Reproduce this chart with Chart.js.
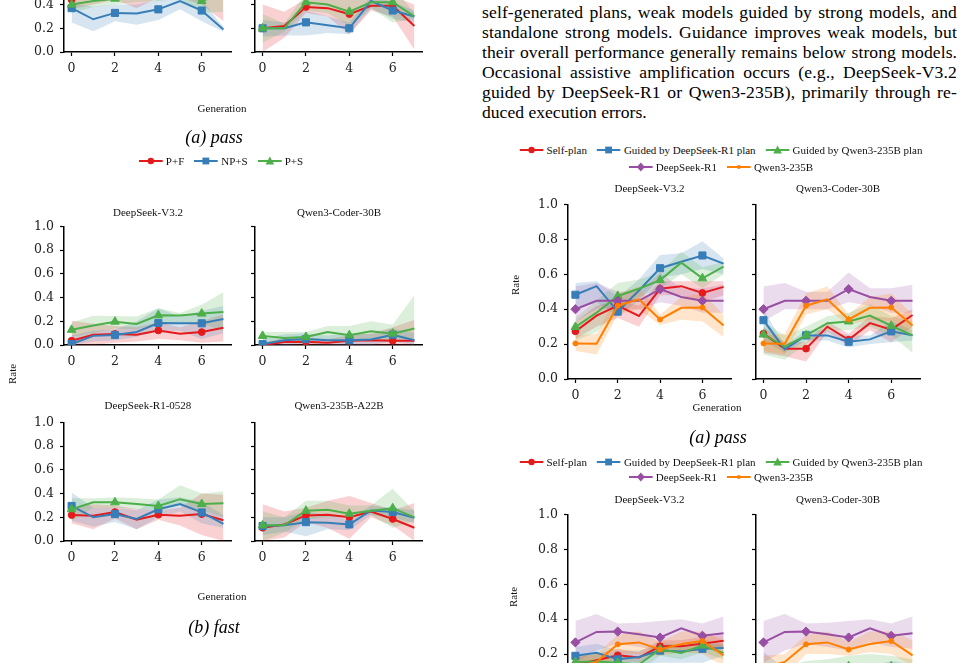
<!DOCTYPE html>
<html><head><meta charset="utf-8">
<script src="https://cdn.jsdelivr.net/npm/chart.js@4"></script>
<style>
html,body{margin:0;padding:0;background:#fff;}
body{width:961px;height:663px;position:relative;overflow:hidden;font-family:'Liberation Serif','Times New Roman',serif;color:#000;}
.t{position:absolute;white-space:nowrap;transform:translate(-50%,-50%);font-size:11px;color:#111;}
.r{transform:translate(-50%,-50%) rotate(-90deg);}
.cap{font-style:italic;font-size:18px;color:#000;}
.cv{position:absolute;}
.leg{position:absolute;transform:translate(-50%,-50%);white-space:nowrap;font-size:11px;display:flex;align-items:center;color:#111;}
.li{display:inline-flex;align-items:center;margin:0 5px;}
.li svg{margin-right:3px;}
.para{position:absolute;left:482px;top:2px;width:475px;font-size:17.6px;}
.para div{height:20px;line-height:20px;white-space:nowrap;}
.para span{white-space:nowrap;}
</style>
</head><body>
<div class="para">
<div><span>self-generated plans, weak models guided by strong models, and</span></div>
<div><span>standalone strong models. Guidance improves weak models, but</span></div>
<div><span>their overall performance generally remains below strong models.</span></div>
<div><span>Occasional assistive amplification occurs (e.g., DeepSeek-V3.2</span></div>
<div><span>guided by DeepSeek-R1 or Qwen3-235B), primarily through re-</span></div>
<div class="last"><span>duced execution errors.</span></div>
</div>
<script>
// ---------- shared axes ----------
const generations = [0, 1, 2, 3, 4, 5, 6, 7];
const xTickValues = [0, 2, 4, 6];
const yTickValues = [0, 0.2, 0.4, 0.6, 0.8, 1.0];
const yTickLabels = ['0.0', '0.2', '0.4', '0.6', '0.8', '1.0'];

// ---------- left figure: P+F / NP+S / P+S ----------
const leftSeriesNames = ['P+F', 'NP+S', 'P+S'];
// (a) pass, lower row (cropped at top) – left panel
const passA_PF    = [0.44, 0.48, 0.52, 0.50, 0.55, 0.55, 0.52, 0.48];
const passA_PF_lo = [0.36, 0.40, 0.44, 0.37, 0.46, 0.46, 0.40, 0.26];
const passA_PF_hi = [0.52, 0.56, 0.60, 0.60, 0.64, 0.64, 0.62, 0.66];
const passA_NPS    = [0.37, 0.276, 0.33, 0.325, 0.36, 0.43, 0.35, 0.19];
const passA_NPS_lo = [0.25, 0.175, 0.26, 0.23, 0.27, 0.36, 0.26, 0.17];
const passA_NPS_hi = [0.41, 0.385, 0.40, 0.40, 0.44, 0.50, 0.44, 0.21];
const passA_PS    = [0.40, 0.43, 0.45, 0.48, 0.50, 0.52, 0.43, 0.50];
const passA_PS_lo = [0.33, 0.38, 0.40, 0.42, 0.43, 0.45, 0.33, 0.34];
const passA_PS_hi = [0.47, 0.50, 0.52, 0.55, 0.58, 0.60, 0.55, 0.62];
// (a) pass, lower row – right panel
const passB_PF    = [0.20, 0.22, 0.38, 0.37, 0.32, 0.39, 0.39, 0.22];
const passB_PF_lo = [0.00, 0.12, 0.33, 0.30, 0.15, 0.35, 0.30, 0.02];
const passB_PF_hi = [0.40, 0.34, 0.45, 0.45, 0.45, 0.45, 0.47, 0.40];
const passB_NPS    = [0.20, 0.20, 0.25, 0.225, 0.20, 0.43, 0.35, 0.30];
const passB_NPS_lo = [0.13, 0.14, 0.14, 0.16, 0.15, 0.37, 0.28, 0.25];
const passB_NPS_hi = [0.27, 0.25, 0.35, 0.30, 0.25, 0.47, 0.42, 0.35];
const passB_PS    = [0.20, 0.20, 0.42, 0.40, 0.34, 0.42, 0.42, 0.30];
const passB_PS_lo = [0.08, 0.17, 0.35, 0.33, 0.22, 0.37, 0.25, 0.28];
const passB_PS_hi = [0.32, 0.24, 0.50, 0.48, 0.45, 0.47, 0.55, 0.33];
// (b) fast – DeepSeek-V3.2
const fastV_PF    = [0.036, 0.087, 0.093, 0.087, 0.123, 0.096, 0.109, 0.145];
const fastV_PF_lo = [0.00, 0.00, 0.02, 0.03, 0.05, 0.04, 0.02, 0.03];
const fastV_PF_hi = [0.205, 0.18, 0.16, 0.15, 0.19, 0.15, 0.20, 0.26];
const fastV_NPS    = [0.008, 0.077, 0.085, 0.11, 0.186, 0.183, 0.183, 0.219];
const fastV_NPS_lo = [0.00, 0.03, 0.04, 0.07, 0.12, 0.12, 0.05, 0.10];
const fastV_NPS_hi = [0.08, 0.12, 0.13, 0.20, 0.31, 0.24, 0.29, 0.33];
const fastV_PS    = [0.128, 0.164, 0.197, 0.178, 0.251, 0.25, 0.265, 0.279];
const fastV_PS_lo = [0.07, 0.10, 0.14, 0.13, 0.19, 0.18, 0.18, 0.12];
const fastV_PS_hi = [0.19, 0.246, 0.245, 0.24, 0.31, 0.27, 0.34, 0.445];
// (b) fast – Qwen3-Coder-30B
const fastC_PF    = [0.0, 0.025, 0.027, 0.02, 0.036, 0.04, 0.036, 0.036];
const fastC_PF_lo = [0, 0, 0, 0, 0, 0, 0, 0];
const fastC_PF_hi = [0.02, 0.06, 0.06, 0.05, 0.08, 0.10, 0.15, 0.21];
const fastC_NPS    = [0.008, 0.04, 0.05, 0.04, 0.04, 0.046, 0.087, 0.04];
const fastC_NPS_lo = [0, 0, 0.01, 0, 0, 0, 0.03, 0];
const fastC_NPS_hi = [0.05, 0.09, 0.10, 0.08, 0.10, 0.09, 0.14, 0.10];
const fastC_PS    = [0.077, 0.06, 0.068, 0.11, 0.082, 0.115, 0.096, 0.14];
const fastC_PS_lo = [0.03, 0.02, 0.02, 0.05, 0.04, 0.05, 0.03, 0.06];
const fastC_PS_hi = [0.11, 0.11, 0.11, 0.16, 0.16, 0.20, 0.17, 0.42];
// (b) fast – DeepSeek-R1-0528
const fastR_PF    = [0.219, 0.214, 0.244, 0.18, 0.222, 0.214, 0.227, 0.175];
const fastR_PF_lo = [0.15, 0.10, 0.19, 0.10, 0.18, 0.13, 0.05, 0.00];
const fastR_PF_hi = [0.28, 0.31, 0.30, 0.27, 0.26, 0.28, 0.40, 0.39];
const fastR_NPS    = [0.296, 0.20, 0.227, 0.186, 0.268, 0.312, 0.241, 0.145];
const fastR_NPS_lo = [0.17, 0.12, 0.16, 0.10, 0.20, 0.25, 0.15, 0.11];
const fastR_NPS_hi = [0.41, 0.28, 0.28, 0.26, 0.35, 0.37, 0.33, 0.22];
const fastR_PS    = [0.268, 0.326, 0.326, 0.312, 0.296, 0.353, 0.312, 0.318];
const fastR_PS_lo = [0.17, 0.28, 0.28, 0.27, 0.26, 0.30, 0.26, 0.20];
const fastR_PS_hi = [0.36, 0.36, 0.37, 0.36, 0.35, 0.47, 0.40, 0.42];
// (b) fast – Qwen3-235B-A22B
const fastW_PF    = [0.112, 0.14, 0.216, 0.222, 0.20, 0.249, 0.186, 0.112];
const fastW_PF_lo = [0.00, 0.03, 0.16, 0.11, 0.02, 0.20, 0.13, 0.00];
const fastW_PF_hi = [0.31, 0.25, 0.28, 0.34, 0.38, 0.32, 0.26, 0.32];
const fastW_NPS    = [0.126, 0.132, 0.159, 0.153, 0.14, 0.258, 0.244, 0.195];
const fastW_NPS_lo = [0.05, 0.08, 0.04, 0.10, 0.09, 0.22, 0.20, 0.15];
const fastW_NPS_hi = [0.20, 0.20, 0.25, 0.22, 0.18, 0.30, 0.28, 0.26];
const fastW_PS    = [0.132, 0.132, 0.255, 0.263, 0.23, 0.255, 0.277, 0.20];
const fastW_PS_lo = [0.00, 0.07, 0.18, 0.20, 0.20, 0.22, 0.11, 0.17];
const fastW_PS_hi = [0.25, 0.20, 0.34, 0.34, 0.30, 0.30, 0.44, 0.25];

// ---------- right figure: guidance ----------
const rightSeriesNames = ['Self-plan', 'Guided by DeepSeek-R1 plan', 'Guided by Qwen3-235B plan', 'DeepSeek-R1', 'Qwen3-235B'];
// pass – strong models (same in both panels)
const passDSR1    = [0.40, 0.448, 0.448, 0.448, 0.515, 0.47, 0.448, 0.448];
const passDSR1_lo = [0.33, 0.40, 0.40, 0.40, 0.44, 0.42, 0.38, 0.38];
const passDSR1_hi = [0.53, 0.55, 0.50, 0.50, 0.61, 0.52, 0.52, 0.54];
const passQ235    = [0.204, 0.202, 0.42, 0.457, 0.341, 0.408, 0.41, 0.307];
const passQ235_lo = [0.16, 0.14, 0.37, 0.40, 0.31, 0.34, 0.33, 0.24];
const passQ235_hi = [0.25, 0.26, 0.49, 0.53, 0.37, 0.47, 0.49, 0.37];
// pass – DeepSeek-V3.2
const passV_self    = [0.273, 0.363, 0.42, 0.361, 0.517, 0.532, 0.493, 0.528];
const passV_self_lo = [0.23, 0.30, 0.35, 0.30, 0.48, 0.48, 0.44, 0.48];
const passV_self_hi = [0.33, 0.42, 0.45, 0.42, 0.56, 0.56, 0.56, 0.56];
const passV_gR1    = [0.483, 0.532, 0.386, 0.507, 0.635, 0.672, 0.708, 0.661];
const passV_gR1_lo = [0.40, 0.44, 0.36, 0.45, 0.58, 0.60, 0.63, 0.60];
const passV_gR1_hi = [0.55, 0.56, 0.47, 0.57, 0.71, 0.72, 0.79, 0.69];
const passV_gQ    = [0.298, 0.38, 0.476, 0.517, 0.567, 0.667, 0.577, 0.644];
const passV_gQ_lo = [0.22, 0.27, 0.40, 0.47, 0.52, 0.60, 0.52, 0.60];
const passV_gQ_hi = [0.35, 0.45, 0.55, 0.57, 0.61, 0.73, 0.64, 0.67];
// pass – Qwen3-Coder-30B
const passC_self    = [0.26, 0.174, 0.174, 0.30, 0.225, 0.32, 0.283, 0.367];
const passC_self_lo = [0.15, 0.13, 0.10, 0.27, 0.19, 0.28, 0.21, 0.30];
const passC_self_hi = [0.30, 0.21, 0.21, 0.33, 0.26, 0.36, 0.35, 0.40];
const passC_gR1    = [0.337, 0.17, 0.25, 0.25, 0.213, 0.227, 0.273, 0.25];
const passC_gR1_lo = [0.22, 0.15, 0.22, 0.22, 0.18, 0.20, 0.21, 0.22];
const passC_gR1_hi = [0.40, 0.19, 0.28, 0.28, 0.25, 0.25, 0.33, 0.28];
const passC_gQ    = [0.255, 0.185, 0.25, 0.32, 0.33, 0.363, 0.305, 0.25];
const passC_gQ_lo = [0.14, 0.11, 0.20, 0.28, 0.28, 0.30, 0.25, 0.15];
const passC_gQ_hi = [0.33, 0.25, 0.30, 0.36, 0.38, 0.43, 0.36, 0.33];
// fast – strong models
const fastDSR1    = [0.267, 0.327, 0.329, 0.314, 0.295, 0.348, 0.305, 0.32];
const fastDSR1_lo = [0.15, 0.22, 0.26, 0.24, 0.22, 0.27, 0.24, 0.23];
const fastDSR1_hi = [0.39, 0.43, 0.375, 0.38, 0.39, 0.40, 0.375, 0.415];
const fastQ235    = [0.12, 0.155, 0.256, 0.267, 0.226, 0.258, 0.275, 0.193];
const fastQ235_lo = [0.06, 0.07, 0.20, 0.20, 0.19, 0.21, 0.20, 0.13];
const fastQ235_hi = [0.19, 0.20, 0.31, 0.33, 0.27, 0.33, 0.33, 0.28];
// fast – DeepSeek-V3.2
const fastV_self    = [0.14, 0.165, 0.193, 0.18, 0.245, 0.245, 0.26, 0.277];
const fastV_self_lo = [0.10, 0.13, 0.16, 0.15, 0.21, 0.21, 0.22, 0.24];
const fastV_self_hi = [0.18, 0.20, 0.23, 0.21, 0.28, 0.28, 0.30, 0.31];
const fastV_gR1    = [0.19, 0.207, 0.17, 0.183, 0.22, 0.215, 0.23, 0.235];
const fastV_gR1_lo = [0.14, 0.15, 0.12, 0.13, 0.15, 0.15, 0.15, 0.19];
const fastV_gR1_hi = [0.24, 0.26, 0.22, 0.22, 0.25, 0.24, 0.26, 0.26];
const fastV_gQ    = [0.155, 0.158, 0.15, 0.14, 0.228, 0.207, 0.249, 0.207];
const fastV_gQ_lo = [0.11, 0.12, 0.11, 0.10, 0.19, 0.17, 0.21, 0.17];
const fastV_gQ_hi = [0.20, 0.20, 0.19, 0.18, 0.27, 0.25, 0.29, 0.25];
// fast – Qwen3-Coder-30B
const fastC_self    = [0.03, 0.04, 0.05, 0.05, 0.06, 0.05, 0.07, 0.08];
const fastC_self_lo = [0.00, 0.01, 0.02, 0.02, 0.03, 0.02, 0.04, 0.05];
const fastC_self_hi = [0.06, 0.07, 0.08, 0.08, 0.09, 0.08, 0.10, 0.11];
const fastC_gR1    = [0.10, 0.06, 0.07, 0.08, 0.09, 0.08, 0.10, 0.09];
const fastC_gR1_lo = [0.00, 0.01, 0.02, 0.03, 0.04, 0.03, 0.04, 0.04];
const fastC_gR1_hi = [0.21, 0.12, 0.12, 0.13, 0.14, 0.13, 0.16, 0.14];
const fastC_gQ    = [0.08, 0.07, 0.10, 0.11, 0.13, 0.14, 0.13, 0.12];
const fastC_gQ_lo = [0.02, 0.02, 0.04, 0.05, 0.07, 0.08, 0.07, 0.07];
const fastC_gQ_hi = [0.15, 0.13, 0.16, 0.17, 0.19, 0.20, 0.19, 0.17];

// ---------- paragraph: manual justification (letter + word spacing) ----------
(function justify() {
  const W = 475;
  document.querySelectorAll('.para div').forEach(div => {
    const sp = div.querySelector('span');
    const txt = sp.textContent;
    const nat = sp.getBoundingClientRect().width;
    const chars = txt.length;
    let extra = W - nat;
    if (div.classList.contains('last')) {
      return;
    }
    let ls = Math.max(-0.6, Math.min(0.25, (extra * 0.35) / chars));
    sp.style.letterSpacing = ls + 'px';
    const nat2 = sp.getBoundingClientRect().width;
    const n = (txt.match(/ /g) || []).length;
    if (n > 0) sp.style.wordSpacing = ((W - nat2) / n) + 'px';
  });
})();

// ---------- style ----------
const RED = '#e41a1c', BLUE = '#377eb8', GREEN = '#4daf4a', PURPLE = '#984ea3', ORANGE = '#ff7f00';
function rgba(hex, a) {
  const n = parseInt(hex.slice(1), 16);
  return `rgba(${(n >> 16) & 255},${(n >> 8) & 255},${n & 255},${a})`;
}
const MK = {
  circle: { style: 'circle', r: 3.4 },
  square: { style: 'rect', r: 5 },
  tri:    { style: 'triangle', r: 5 },
  diam:   { style: 'rectRot', r: 4.6 },
  dot:    { style: 'circle', r: 2.5 }
};

function pts(vals) { return vals.map((v, i) => ({ x: generations[i], y: v })); }

function makePanel(area, series, showY) {
  const PL = 48, PT = 10, PR = 8, PB = 28;
  const l = Math.round(area.l), t = Math.round(area.t), r = Math.round(area.r), b = Math.round(area.b);
  const div = document.createElement('div');
  div.className = 'cv';
  div.style.left = (l - PL) + 'px';
  div.style.top = (t - PT) + 'px';
  div.style.width = (r - l + PL + PR) + 'px';
  div.style.height = (b - t + PT + PB) + 'px';
  const c = document.createElement('canvas');
  div.appendChild(c);
  document.body.appendChild(div);

  const datasets = [];
  for (let k = series.length - 1; k >= 0; k--) {
    const s = series[k];
    const m = MK[s.marker];
    datasets.push({
      data: pts(s.vals), borderColor: s.color, backgroundColor: s.color,
      borderWidth: 2, fill: false, tension: 0,
      pointStyle: m.style, pointRadius: ctx => (ctx.dataIndex % 2 === 0 ? m.r : 0),
      pointBorderColor: s.color, pointBackgroundColor: s.color, pointBorderWidth: 1
    });
  }
  for (let k = series.length - 1; k >= 0; k--) {
    const s = series[k];
    datasets.push({ data: pts(s.hi), fill: '+1', backgroundColor: rgba(s.color, 0.2),
      borderWidth: 0, borderColor: 'rgba(0,0,0,0)', pointRadius: 0, tension: 0 });
    datasets.push({ data: pts(s.lo), fill: false, borderWidth: 0,
      borderColor: 'rgba(0,0,0,0)', pointRadius: 0, tension: 0 });
  }
  const gridOpt = { drawOnChartArea: false, drawTicks: true, tickLength: 4, tickColor: '#000', tickWidth: 1.2 };
  const borderOpt = { display: true, color: '#000', width: 1.5 };
  const tickFont = { family: 'DejaVu Serif', size: 12.5 };
  new Chart(c, {
    type: 'line',
    data: { datasets },
    options: {
      responsive: true, maintainAspectRatio: false, animation: false, events: [],
      layout: { padding: { left: 0, top: PT, right: PR, bottom: 0 } },
      plugins: { legend: { display: false }, tooltip: { enabled: false },
        filler: { drawTime: 'beforeDatasetsDraw', propagate: false } },
      scales: {
        x: { type: 'linear', min: -0.35, max: 7.35, bounds: 'data',
          afterBuildTicks: s => { s.ticks = xTickValues.map(v => ({ value: v })); },
          afterFit: s => { s.height = PB; },
          grid: gridOpt, border: borderOpt,
          ticks: { color: '#222', font: tickFont, padding: 5, maxRotation: 0, autoSkip: false,
            callback: v => String(v) } },
        y: { type: 'linear', min: 0, max: 1,
          afterBuildTicks: s => { s.ticks = yTickValues.map(v => ({ value: v })); },
          afterFit: s => { s.width = PL; },
          grid: gridOpt, border: borderOpt,
          ticks: { color: '#222', font: tickFont, padding: 6, autoSkip: false,
            callback: v => showY ? yTickLabels[yTickValues.findIndex(t => Math.abs(t - v) < 1e-6)] : '' } }
      }
    }
  });
}

function text(str, x, y, cls, extra) {
  const d = document.createElement('div');
  d.className = 't' + (cls ? ' ' + cls : '');
  d.style.left = x + 'px'; d.style.top = y + 'px';
  if (extra) Object.assign(d.style, extra);
  d.textContent = str;
  document.body.appendChild(d);
}

function markerSvg(kind, c) {
  switch (kind) {
    case 'circle': return `<circle cx="12" cy="5" r="3.2" fill="${c}"/>`;
    case 'square': return `<rect x="8.6" y="1.6" width="6.8" height="6.8" fill="${c}"/>`;
    case 'tri': return `<polygon points="12,0.6 16.3,8.4 7.7,8.4" fill="${c}"/>`;
    case 'diam': return `<polygon points="12,0.4 16,5 12,9.6 8,5" fill="${c}"/>`;
    default: return `<circle cx="12" cy="5" r="2" fill="${c}"/>`;
  }
}
function legend(items, x, y) {
  const d = document.createElement('div');
  d.className = 'leg';
  d.style.left = x + 'px'; d.style.top = y + 'px';
  d.innerHTML = items.map(it =>
    `<span class="li"><svg width="24" height="10"><line x1="0" y1="5" x2="24" y2="5" stroke="${it.color}" stroke-width="2"/>${markerSvg(it.marker, it.color)}</svg><span></span></span>`).join('');
  d.querySelectorAll('.li > span').forEach((sp, i) => { sp.textContent = items[i].label; });
  document.body.appendChild(d);
}

function leftSeries(pf, pfLo, pfHi, nps, npsLo, npsHi, ps, psLo, psHi) {
  return [
    { vals: pf, lo: pfLo, hi: pfHi, color: RED, marker: 'circle' },
    { vals: nps, lo: npsLo, hi: npsHi, color: BLUE, marker: 'square' },
    { vals: ps, lo: psLo, hi: psHi, color: GREEN, marker: 'tri' }
  ];
}

// ---------- left figure geometry ----------
const sL = 21.7, xL1 = 72, xL2 = 263;
function areaL(x0, top, bottom) { return { l: x0 - 0.35 * sL, r: x0 + 7.35 * sL, t: top, b: bottom }; }
makePanel(areaL(xL1, -70, 52), leftSeries(passA_PF, passA_PF_lo, passA_PF_hi, passA_NPS, passA_NPS_lo, passA_NPS_hi, passA_PS, passA_PS_lo, passA_PS_hi), true);
makePanel(areaL(xL2, -70, 52), leftSeries(passB_PF, passB_PF_lo, passB_PF_hi, passB_NPS, passB_NPS_lo, passB_NPS_hi, passB_PS, passB_PS_lo, passB_PS_hi), false);
makePanel(areaL(xL1, 223, 345), leftSeries(fastV_PF, fastV_PF_lo, fastV_PF_hi, fastV_NPS, fastV_NPS_lo, fastV_NPS_hi, fastV_PS, fastV_PS_lo, fastV_PS_hi), true);
makePanel(areaL(xL2, 223, 345), leftSeries(fastC_PF, fastC_PF_lo, fastC_PF_hi, fastC_NPS, fastC_NPS_lo, fastC_NPS_hi, fastC_PS, fastC_PS_lo, fastC_PS_hi), false);
makePanel(areaL(xL1, 419, 541), leftSeries(fastR_PF, fastR_PF_lo, fastR_PF_hi, fastR_NPS, fastR_NPS_lo, fastR_NPS_hi, fastR_PS, fastR_PS_lo, fastR_PS_hi), true);
makePanel(areaL(xL2, 419, 541), leftSeries(fastW_PF, fastW_PF_lo, fastW_PF_hi, fastW_NPS, fastW_NPS_lo, fastW_NPS_hi, fastW_PS, fastW_PS_lo, fastW_PS_hi), false);

text('Generation', 222, 108);
text('(a) pass', 214, 137, 'cap');
legend([
  { label: leftSeriesNames[0], color: RED, marker: 'circle' },
  { label: leftSeriesNames[1], color: BLUE, marker: 'square' },
  { label: leftSeriesNames[2], color: GREEN, marker: 'tri' }
], 221, 161);
text('DeepSeek-V3.2', 148, 212);
text('Qwen3-Coder-30B', 339, 212);
text('Rate', 12, 374, 'r');
text('DeepSeek-R1-0528', 148, 405);
text('Qwen3-235B-A22B', 339, 405);
text('Generation', 222, 596);
text('(b) fast', 214, 627, 'cap');

// ---------- right figure geometry ----------
const sR = 21.28, xR1 = 575, xR2 = 763.3;
function areaR(x0, top, bottom) { return { l: x0 - 0.35 * sR, r: x0 + 7.35 * sR, t: top, b: bottom }; }
function rightSeries(self, selfLo, selfHi, g1, g1Lo, g1Hi, g2, g2Lo, g2Hi, d, dLo, dHi, q, qLo, qHi) {
  return [
    { vals: self, lo: selfLo, hi: selfHi, color: RED, marker: 'circle' },
    { vals: g1, lo: g1Lo, hi: g1Hi, color: BLUE, marker: 'square' },
    { vals: g2, lo: g2Lo, hi: g2Hi, color: GREEN, marker: 'tri' },
    { vals: d, lo: dLo, hi: dHi, color: PURPLE, marker: 'diam' },
    { vals: q, lo: qLo, hi: qHi, color: ORANGE, marker: 'dot' }
  ];
}
makePanel(areaR(xR1, 201, 379), rightSeries(passV_self, passV_self_lo, passV_self_hi, passV_gR1, passV_gR1_lo, passV_gR1_hi, passV_gQ, passV_gQ_lo, passV_gQ_hi, passDSR1, passDSR1_lo, passDSR1_hi, passQ235, passQ235_lo, passQ235_hi), true);
makePanel(areaR(xR2, 201, 379), rightSeries(passC_self, passC_self_lo, passC_self_hi, passC_gR1, passC_gR1_lo, passC_gR1_hi, passC_gQ, passC_gQ_lo, passC_gQ_hi, passDSR1, passDSR1_lo, passDSR1_hi, passQ235, passQ235_lo, passQ235_hi), false);
makePanel(areaR(xR1, 511, 689), rightSeries(fastV_self, fastV_self_lo, fastV_self_hi, fastV_gR1, fastV_gR1_lo, fastV_gR1_hi, fastV_gQ, fastV_gQ_lo, fastV_gQ_hi, fastDSR1, fastDSR1_lo, fastDSR1_hi, fastQ235, fastQ235_lo, fastQ235_hi), true);
makePanel(areaR(xR2, 511, 689), rightSeries(fastC_self, fastC_self_lo, fastC_self_hi, fastC_gR1, fastC_gR1_lo, fastC_gR1_hi, fastC_gQ, fastC_gQ_lo, fastC_gQ_hi, fastDSR1, fastDSR1_lo, fastDSR1_hi, fastQ235, fastQ235_lo, fastQ235_hi), false);

const rightItems1 = [
  { label: rightSeriesNames[0], color: RED, marker: 'circle' },
  { label: rightSeriesNames[1], color: BLUE, marker: 'square' },
  { label: rightSeriesNames[2], color: GREEN, marker: 'tri' }
];
const rightItems2 = [
  { label: rightSeriesNames[3], color: PURPLE, marker: 'diam' },
  { label: rightSeriesNames[4], color: ORANGE, marker: 'dot' }
];
legend(rightItems1, 721, 150);
legend(rightItems2, 721, 167);
text('DeepSeek-V3.2', 649.5, 187.5);
text('Qwen3-Coder-30B', 838, 187.5);
text('Rate', 515, 285, 'r');
text('Generation', 717, 407);
text('(a) pass', 718, 437, 'cap');
legend(rightItems1, 721, 462);
legend(rightItems2, 721, 477);
text('DeepSeek-V3.2', 649.5, 499);
text('Qwen3-Coder-30B', 838, 499);
text('Rate', 513, 597, 'r');
</script>
</body></html>
